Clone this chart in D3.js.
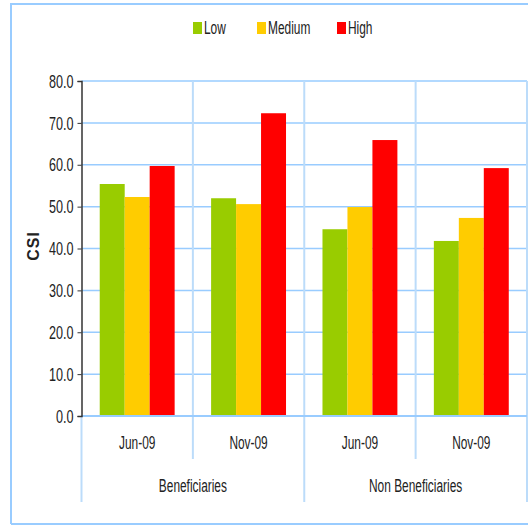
<!DOCTYPE html>
<html>
<head>
<meta charset="utf-8">
<script src="https://cdn.jsdelivr.net/npm/d3@7"></script>
<style>
  body { margin: 0; background: #fff; }
  text { font-family: "Liberation Sans", Arial, sans-serif; fill: #222; }
</style>
</head>
<body>
<svg width="528" height="525"></svg>
<script>
var groups = ["Beneficiaries", "Non Beneficiaries"];
var periods = ["Jun-09", "Nov-09", "Jun-09", "Nov-09"];
var series = ["Low", "Medium", "High"];
var low = [55.4, 52.0, 44.6, 41.8];
var medium = [52.3, 50.6, 49.9, 47.3];
var high = [59.7, 72.3, 65.9, 59.2];
var yTicks = [0, 10, 20, 30, 40, 50, 60, 70, 80];
var colors = ["#99cc00", "#ffcc00", "#ff0000"];

var svg = d3.select("svg");
var values = [low, medium, high];
var squeeze = 0.68;
var fontSize = "17.5px";

var plotLeft = 81.5, plotRight = 527, plotTop = 81, plotBottom = 416;

// outer frame
svg.append("path")
    .attr("d", "M11,524 L11,4 L528,4 M11,524 L528,524")
    .attr("fill", "none")
    .attr("stroke", "#99ccff")
    .attr("stroke-width", 2);

var x = d3.scaleBand().domain(d3.range(periods.length)).range([plotLeft, plotRight]);
var xInner = d3.scaleBand().domain(d3.range(series.length))
    .range([0, x.bandwidth()]).paddingOuter(0.73).paddingInner(0);
var y = d3.scaleLinear().domain([0, 80]).range([plotBottom, plotTop]);

// horizontal gridlines
svg.append("g").selectAll("line")
    .data(yTicks)
    .enter().append("line")
    .attr("x1", plotLeft).attr("x2", plotRight)
    .attr("y1", function(d) { return y(d); })
    .attr("y2", function(d) { return y(d); })
    .attr("stroke", "#99ccff")
    .attr("stroke-width", 1.5);

// vertical lines between categories
svg.append("g").selectAll("line")
    .data(d3.range(1, periods.length + 1))
    .enter().append("line")
    .attr("x1", function(i) { return i < periods.length ? x(i) : plotRight; })
    .attr("x2", function(i) { return i < periods.length ? x(i) : plotRight; })
    .attr("y1", plotTop)
    .attr("y2", function(i) { return (i % 2 === 0) ? 502 : 459; })
    .attr("stroke", "#bcdcfa")
    .attr("stroke-width", 2);

svg.append("line")
    .attr("x1", plotLeft).attr("x2", plotLeft)
    .attr("y1", plotBottom).attr("y2", 502)
    .attr("stroke", "#bcdcfa").attr("stroke-width", 2);

// bars
svg.append("g").selectAll("g")
    .data(series)
    .enter().append("g")
    .attr("fill", function(d, s) { return colors[s]; })
    .selectAll("rect")
    .data(function(d, s) { return values[s].map(function(v, i) { return { s: s, i: i, v: v }; }); })
    .enter().append("rect")
    .attr("x", function(d) { return x(d.i) + xInner(d.s); })
    .attr("width", xInner.bandwidth())
    .attr("y", function(d) { return y(d.v); })
    .attr("height", function(d) { return plotBottom - y(d.v); });

// baseline
svg.append("line")
    .attr("x1", plotLeft).attr("x2", plotRight)
    .attr("y1", plotBottom).attr("y2", plotBottom)
    .attr("stroke", "#99ccff").attr("stroke-width", 2);

// y axis
var yAxis = svg.append("g")
    .attr("transform", "translate(" + plotLeft + ",0)")
    .call(d3.axisLeft(y).tickValues(yTicks).tickSize(4).tickFormat(d3.format(".1f")));
yAxis.select(".domain").attr("stroke", "#333").attr("stroke-width", 1.5);
yAxis.selectAll(".tick line").attr("stroke", "#333");
yAxis.selectAll(".tick text")
    .attr("x", 0).attr("dy", "0.35em")
    .style("font-size", fontSize)
    .style("fill", "#222")
    .attr("text-anchor", "end")
    .attr("transform", "translate(-8,0) scale(0.72,1)");

// y label
svg.append("text")
    .attr("transform", "translate(39,246) rotate(-90)")
    .attr("text-anchor", "middle")
    .style("font-size", "16px")
    .style("font-weight", "bold")
    .style("letter-spacing", "1px")
    .text("CSI");

// category labels
svg.append("g").selectAll("text")
    .data(periods)
    .enter().append("text")
    .attr("transform", function(d, i) {
        return "translate(" + (x(i) + x.bandwidth() / 2) + ",449) scale(" + squeeze + ",1)";
    })
    .attr("text-anchor", "middle")
    .style("font-size", fontSize)
    .text(function(d) { return d; });

svg.append("g").selectAll("text")
    .data(groups)
    .enter().append("text")
    .attr("transform", function(d, i) {
        return "translate(" + (x(i * 2) + x.bandwidth()) + ",492) scale(" + squeeze + ",1)";
    })
    .attr("text-anchor", "middle")
    .style("font-size", fontSize)
    .text(function(d) { return d; });

// legend
var legendX = [193, 257, 337];
var legend = svg.append("g").selectAll("g")
    .data(series)
    .enter().append("g")
    .attr("transform", function(d, i) { return "translate(" + legendX[i] + ",22)"; });
legend.append("rect")
    .attr("width", 9).attr("height", 12)
    .attr("fill", function(d, i) { return colors[i]; });
legend.append("text")
    .attr("transform", "translate(11,11.5) scale(" + squeeze + ",1)")
    .style("font-size", fontSize)
    .text(function(d) { return d; });
</script>
</body>
</html>
